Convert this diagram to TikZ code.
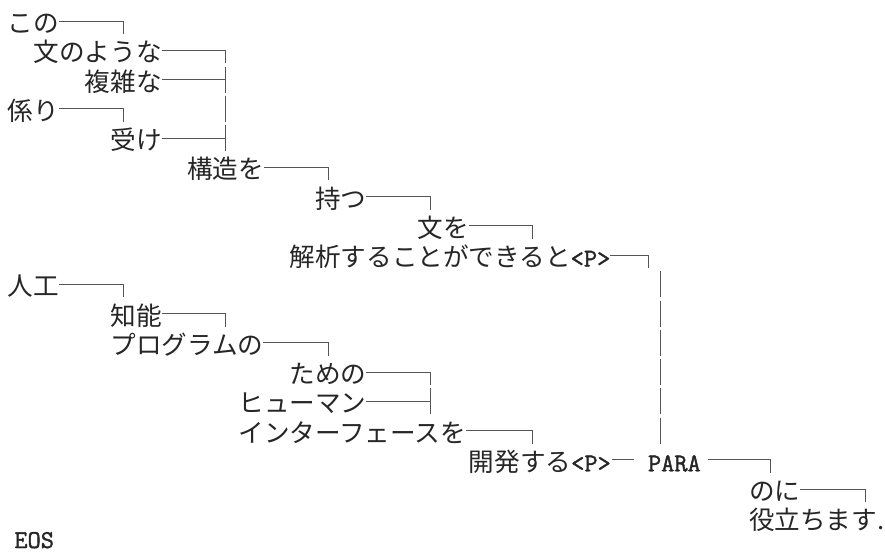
\documentclass[tikz,border=0pt]{standalone}
\usepackage{fontspec}
\newfontfamily\cjk{Noto Sans CJK JP}
\newfontfamily\mono{Latin Modern Mono}[FakeBold=1.5]
\definecolor{txt}{HTML}{262626}
\definecolor{ln}{HTML}{555555}
\tikzset{
  jp/.style={inner sep=0pt, outer sep=0pt, anchor=base west, text=txt,
    font=\cjk\fontsize{25.6}{29}\selectfont},
  tt/.style={inner sep=0pt, outer sep=0pt, anchor=base west, text=txt,
    font=\mono\fontsize{25.6}{29}\selectfont},
  conn/.style={draw=ln, line width=0.9pt},
}
\begin{document}
\begin{tikzpicture}[x=1pt,y=-1pt]
\fill[white] (0,0) rectangle (885,554);
\useasboundingbox (0,0) rectangle (885,554);

% ---- texts ----
\node[jp] (t1)  at (8,32.5)      {この};
\node[jp] (t2)  at (33.6,61.75)  {文のような};
\node[jp] (t3)  at (84.8,91)     {複雑な};
\node[jp] (t4)  at (8,120.25)    {係り};
\node[jp] (t5)  at (110.4,149.5) {受け};
\node[jp] (t6)  at (187.2,178.75){構造を};
\node[jp] (t7)  at (315.2,208)   {持つ};
\node[jp] (t8)  at (417.6,237.25){文を};
\node[jp] (t9)  at (289.6,266.5) {解析することができると};
\node[tt,anchor=base west] (p9) at (t9.base east) {<P>};
\node[jp] (t10) at (8,295.75)    {人工};
\node[jp] (t11) at (110.4,325)   {知能};
\node[jp] (t12) at (110.4,354.25){プログラムの};
\node[jp] (t13) at (289.6,383.5) {ための};
\node[jp] (t14) at (238.4,412.75){ヒューマン};
\node[jp] (t15) at (238.4,442)   {インターフェースを};
\node[jp] (t16) at (468.8,471.25){開発する};
\node[tt,anchor=base west] (p16) at (t16.base east) {<P>};
\node[tt] (para) at (648,471.25) {PARA};
\node[jp] (t17) at (749,500.5)   {のに};
\node[jp] (t18) at (749,529.75)  {役立ちます.};
\node[tt] (eos) at (14.4,548) {EOS};

% ---- corner points ----
\coordinate (c1)  at (123.2,21);
\coordinate (c2)  at (225.6,50.25);
\coordinate (c3)  at (225.6,79.5);
\coordinate (c4)  at (123.2,108.75);
\coordinate (v4)  at (225.6,108.75);
\coordinate (c5)  at (225.6,138);
\coordinate (c6)  at (328,167.25);
\coordinate (c7)  at (430.4,196.5);
\coordinate (c8)  at (532.8,225.75);
\coordinate (c9)  at (648,255);
\coordinate (c10) at (123.2,284.25);
\coordinate (c11) at (225.6,313.5);
\coordinate (c12) at (328,342.75);
\coordinate (c13) at (430.4,372);
\coordinate (c14) at (430.4,401.25);
\coordinate (c15) at (532.8,430.5);
\coordinate (d16) at (634,459.75);
\coordinate (c16) at (770,459.75);
\coordinate (c17) at (865.6,489);

% ---- connectors ----
% corner: horizontal from text, then down
\draw[conn] ([yshift=11.5pt]t1.base east) -- (c1) -- ++(0,13);
\draw[conn] ([yshift=11.5pt]t2.base east) -- (c2) -- ++(0,13);
\draw[conn] ([yshift=11.5pt]t4.base east) -- (c4) -- ++(0,13);
\draw[conn] ([yshift=11.5pt]t6.base east) -- (c6) -- ++(0,13);
\draw[conn] ([yshift=11.5pt]t7.base east) -- (c7) -- ++(0,13);
\draw[conn] ([yshift=11.5pt]t8.base east) -- (c8) -- ++(0,13);
\draw[conn] ([yshift=11.5pt]p9.base east) -- (c9) -- ++(0,13);
\draw[conn] ([yshift=11.5pt]t10.base east) -- (c10) -- ++(0,13);
\draw[conn] ([yshift=11.5pt]t11.base east) -- (c11) -- ++(0,13);
\draw[conn] ([yshift=11.5pt]t12.base east) -- (c12) -- ++(0,13);
\draw[conn] ([yshift=11.5pt]t13.base east) -- (c13) -- ++(0,13);
\draw[conn] ([yshift=11.5pt]t15.base east) -- (c15) -- ++(0,13);
\draw[conn] ([xshift=7pt,yshift=11.5pt]para.base east) -- (c16) -- ++(0,13);
\draw[conn] ([yshift=11.5pt]t17.base east) -- (c17) -- ++(0,13);
% tee
\draw[conn] ([yshift=11.5pt]t3.base east) -- (c3);
\draw[conn] ([yshift=13pt]c3) -- ([yshift=-13pt]c3);
\draw[conn] ([yshift=11.5pt]t5.base east) -- (c5);
\draw[conn] ([yshift=13pt]c5) -- ([yshift=-13pt]c5);
\draw[conn] ([yshift=11.5pt]t14.base east) -- (c14);
\draw[conn] ([yshift=13pt]c14) -- ([yshift=-13pt]c14);
% plain bar
\draw[conn] ([yshift=13pt]v4) -- ([yshift=-13pt]v4);
\foreach \yy in {284.25,313.5,342.75,372,401.25,430.5}
  \draw[conn] (660.8,\yy-13) -- (660.8,\yy+13);
% short dash after <P> in row 16
\draw[conn] ([xshift=1pt,yshift=11.5pt]p16.base east) -- (d16);
\end{tikzpicture}
\end{document}
